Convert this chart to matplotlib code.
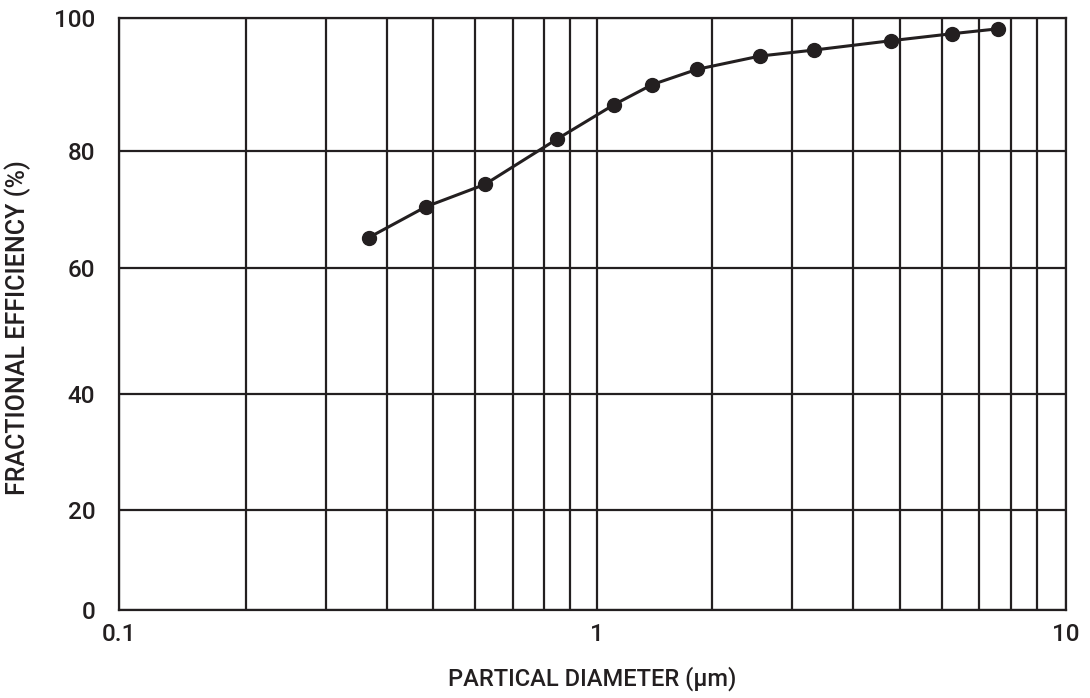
import numpy as np
import matplotlib
matplotlib.use('Agg')
import matplotlib.pyplot as plt

plt.rcParams['font.family'] = ['Roboto', 'DejaVu Sans']

# measured data (particle diameter in um, fractional efficiency in %)
diameter = [0.37, 0.485, 0.626, 0.85, 1.15, 1.48, 1.87, 2.6, 3.36, 4.8, 6.26, 7.6]
efficiency = [65.2, 70.5, 74.3, 81.8, 87.0, 90.0, 92.3, 94.3, 95.2, 96.6, 97.65, 98.4]

x_major = [0.1, 1, 10]
x_labels = ['0.1', '1', '10']
x_grid = [0.1, 0.2, 0.3, 0.4, 0.5, 0.6, 0.7, 0.8, 0.9,
          1, 2, 3, 4, 5, 6, 7, 8, 9, 10]
y_ticks = [0, 20, 40, 60, 80, 100]

# the printed chart paper is not evenly ruled, so follow its spacing
x_ruling = [0, 127, 207, 268, 314, 356, 394, 425, 451,
            478, 593, 673, 734, 781, 823, 860, 892, 918, 947]
y_ruling = [0, 100, 216, 342, 459, 592]

def fx(v):
    return np.interp(v, x_grid, x_ruling)

def fx_inv(p):
    return np.interp(p, x_ruling, x_grid)

def fy(v):
    return np.interp(v, y_ticks, y_ruling)

def fy_inv(p):
    return np.interp(p, y_ruling, y_ticks)

ink = '#231f20'

fig = plt.figure(figsize=(10.9, 6.98), dpi=100)
ax = fig.add_axes([0.109, 0.126, 0.869, 0.848])
ax.set_xscale('function', functions=(fx, fx_inv))
ax.set_yscale('function', functions=(fy, fy_inv))
ax.set_xlim(0.1, 10)
ax.set_ylim(0, 100)

ax.set_xticks(x_major)
ax.set_xticklabels(x_labels)
ax.set_xticks(x_grid, minor=True)
ax.set_yticks(y_ticks)
ax.set_yticks([], minor=True)
ax.tick_params(axis='both', which='both', length=0, labelsize=17.5, colors=ink)
ax.tick_params(axis='x', pad=9)
ax.tick_params(axis='y', pad=17)
for lab in ax.get_xticklabels() + ax.get_yticklabels():
    lab.set_fontweight('medium')
ax.grid(True, which='both', color=ink, linewidth=1.6)
ax.set_axisbelow(True)
for s in ax.spines.values():
    s.set_color(ink)
    s.set_linewidth(1.6)

ax.plot(diameter, efficiency, color=ink, linewidth=2.2, marker='o',
        markersize=10, zorder=3, clip_on=False)

ax.set_xlabel('PARTICAL DIAMETER (\u03bcm)', fontsize=17, fontweight='medium',
              color=ink, labelpad=15)
ax.set_ylabel('FRACTIONAL EFFICIENCY (%)', fontsize=18, fontweight='medium',
              color=ink)
ax.yaxis.set_label_coords(-0.093, 0.478)

fig.savefig('out.png', dpi=100)
